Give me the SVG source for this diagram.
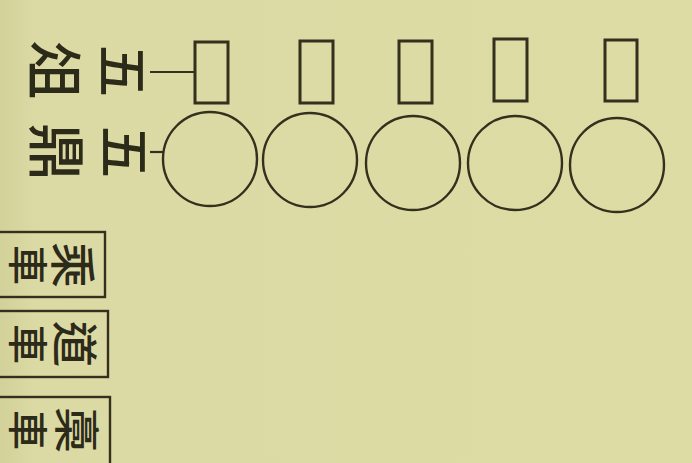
<svg xmlns="http://www.w3.org/2000/svg" width="692" height="463" viewBox="0 0 692 463">
<style>
  .ink { fill: none; stroke: #33311d; }
  .sq { stroke-width: 3; }
  .ci { stroke-width: 2.4; }
  .bx { stroke-width: 2.4; }
  .ln { stroke: #33311d; stroke-width: 2.2; }
  .ch { font-family: "Noto Sans CJK TC", "Noto Sans CJK JP", sans-serif; font-weight: 500; fill: #2c2a19; text-anchor: middle; dominant-baseline: central; }
</style>
<defs>
  <linearGradient id="bg" x1="0" y1="0" x2="1" y2="0">
    <stop offset="0" stop-color="#d2d19a"/>
    <stop offset="0.05" stop-color="#dcdaa4"/>
    <stop offset="1" stop-color="#dedca5"/>
  </linearGradient>
</defs>
<rect x="0" y="0" width="692" height="463" fill="url(#bg)"/>

<g id="connectors">
  <line class="ln" x1="150" y1="72" x2="195" y2="72"/>
  <line class="ln" x1="150" y1="152" x2="163" y2="152"/>
</g>

<g id="label-wuzu">
  <text class="ch" font-size="52" transform="translate(125,71) rotate(90)">五</text>
  <text class="ch" font-size="58" transform="translate(58,70) rotate(90)">俎</text>
</g>
<g id="label-wuding">
  <text class="ch" font-size="52" transform="translate(127,152) rotate(90)">五</text>
  <text class="ch" font-size="58" transform="translate(60,152) rotate(90)">鼎</text>
</g>

<g id="squares">
  <rect id="sq1" class="ink sq" x="195" y="42" width="33" height="61"/>
  <rect id="sq2" class="ink sq" x="300" y="41" width="33" height="62"/>
  <rect id="sq3" class="ink sq" x="399" y="41" width="33" height="62"/>
  <rect id="sq4" class="ink sq" x="494" y="39" width="33" height="62"/>
  <rect id="sq5" class="ink sq" x="605" y="40" width="32" height="61"/>
</g>

<g id="circles">
  <circle id="ci1" class="ink ci" cx="210" cy="159" r="47"/>
  <circle id="ci2" class="ink ci" cx="310" cy="160" r="47"/>
  <circle id="ci3" class="ink ci" cx="413" cy="163" r="47"/>
  <circle id="ci4" class="ink ci" cx="515" cy="163" r="47"/>
  <circle id="ci5" class="ink ci" cx="617" cy="165" r="47"/>
</g>

<g id="box-chengche">
  <rect class="ink bx" x="-10" y="232" width="115" height="65"/>
  <text class="ch" font-size="40" transform="translate(30,265) rotate(90)">車</text>
  <text class="ch" font-size="46" transform="translate(76,265) rotate(90)">乘</text>
</g>
<g id="box-daoche">
  <rect class="ink bx" x="-10" y="311" width="118" height="66"/>
  <text class="ch" font-size="40" transform="translate(30,344) rotate(90)">車</text>
  <text class="ch" font-size="46" transform="translate(78,344) rotate(90)">道</text>
</g>
<g id="box-gaoche">
  <rect class="ink bx" x="-10" y="397" width="120" height="70"/>
  <text class="ch" font-size="40" transform="translate(30,430) rotate(90)">車</text>
  <text class="ch" font-size="46" transform="translate(80,430) rotate(90)">槀</text>
</g>
</svg>
